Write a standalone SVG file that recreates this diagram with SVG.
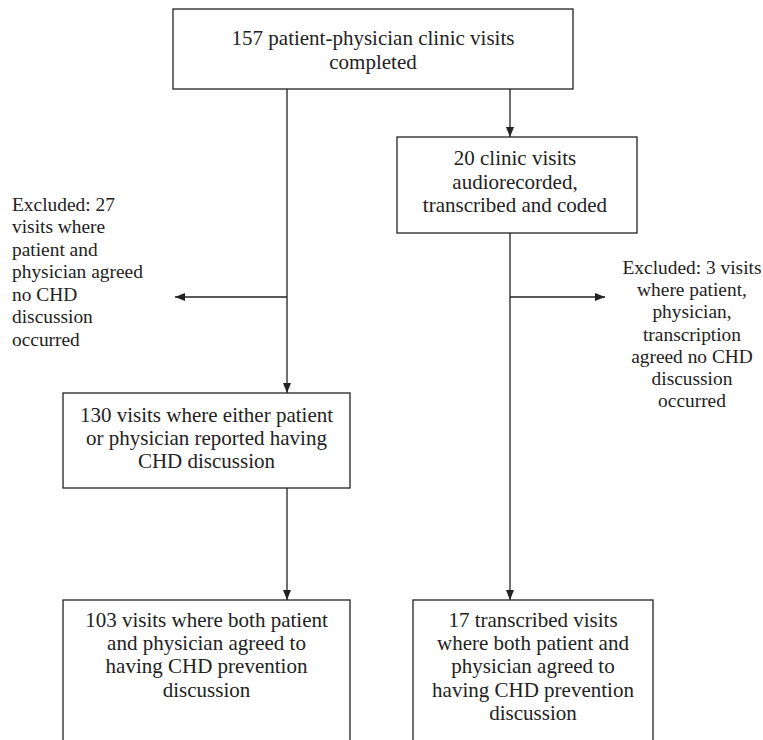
<svg xmlns="http://www.w3.org/2000/svg" width="763" height="740" viewBox="0 0 763 740">
<style>
.box{fill:#fff;stroke:#222;stroke-width:1.3}
.t{font-family:"Liberation Serif","Times New Roman",serif;font-size:21px;fill:#222}
.x{font-family:"Liberation Serif","Times New Roman",serif;font-size:19.4px;fill:#222}
.c{text-anchor:middle}
.ln{stroke:#222;stroke-width:1.3;fill:none}
</style>
<defs>
<marker id="ah" viewBox="0 0 10 10" refX="10" refY="5" markerWidth="10" markerHeight="10" markerUnits="userSpaceOnUse" orient="auto">
<path d="M0,1 L10,5 L0,9 Z" fill="#222"/>
</marker>
</defs>
<rect width="763" height="740" fill="#fff"/>
<g id="connectors">
<path class="ln" d="M287,89 V393" marker-end="url(#ah)"/>
<path class="ln" d="M287,297 H175" marker-end="url(#ah)"/>
<path class="ln" d="M510,89 V137" marker-end="url(#ah)"/>
<path class="ln" d="M510,233 V600" marker-end="url(#ah)"/>
<path class="ln" d="M510,297 H605" marker-end="url(#ah)"/>
<path class="ln" d="M287,488 V600" marker-end="url(#ah)"/>
</g>
<g id="n1">
<rect class="box" x="173" y="9" width="400" height="80"/>
<text class="t c" x="373" y="45">157 patient-physician clinic visits</text>
<text class="t c" x="373" y="69">completed</text>
</g>
<g id="n2">
<rect class="box" x="397" y="137" width="240" height="96"/>
<text class="t c" x="515" y="165">20 clinic visits</text>
<text class="t c" x="515" y="188.5">audiorecorded,</text>
<text class="t c" x="515" y="212">transcribed and coded</text>
</g>
<g id="ex1">
<text class="x" x="12" y="211">Excluded: 27</text>
<text class="x" x="12" y="233">visits where</text>
<text class="x" x="12" y="256">patient and</text>
<text class="x" x="12" y="278">physician agreed</text>
<text class="x" x="12" y="301">no CHD</text>
<text class="x" x="12" y="323">discussion</text>
<text class="x" x="12" y="346">occurred</text>
</g>
<g id="ex2">
<text class="x c" x="692" y="274">Excluded: 3 visits</text>
<text class="x c" x="692" y="296">where patient,</text>
<text class="x c" x="692" y="318">physician,</text>
<text class="x c" x="692" y="341">transcription</text>
<text class="x c" x="692" y="363">agreed no CHD</text>
<text class="x c" x="692" y="385">discussion</text>
<text class="x c" x="692" y="407">occurred</text>
</g>
<g id="n3">
<rect class="box" x="63" y="393" width="287" height="95"/>
<text class="t c" x="206.5" y="422">130 visits where either patient</text>
<text class="t c" x="206.5" y="445">or physician reported having</text>
<text class="t c" x="206.5" y="468">CHD discussion</text>
</g>
<g id="n4">
<rect class="box" x="63" y="600" width="287" height="150"/>
<text class="t c" x="206.5" y="627">103 visits where both patient</text>
<text class="t c" x="206.5" y="650">and physician agreed to</text>
<text class="t c" x="206.5" y="673">having CHD prevention</text>
<text class="t c" x="206.5" y="697">discussion</text>
</g>
<g id="n5">
<rect class="box" x="413" y="600" width="240" height="150"/>
<text class="t c" x="533" y="627">17 transcribed visits</text>
<text class="t c" x="533" y="650">where both patient and</text>
<text class="t c" x="533" y="673">physician agreed to</text>
<text class="t c" x="533" y="697">having CHD prevention</text>
<text class="t c" x="533" y="720">discussion</text>
</g>
</svg>
